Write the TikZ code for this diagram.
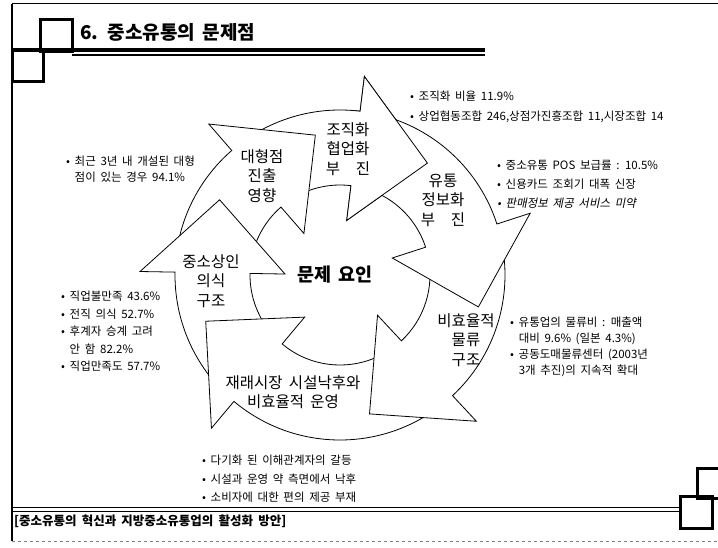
\documentclass[tikz,border=0pt]{standalone}
\usepackage{fontspec}
\setmainfont{Noto Sans CJK KR}[WordSpace=1.8]
\newfontfamily\krslant{Noto Sans CJK KR}[WordSpace=1.8, FakeSlant=0.2]

% one curved arrow of the ring: #2 = tail angle, #3 = barb angle
\newcommand{\cyclearrow}[3][]{%
  \pgfmathsetmacro{\tipangle}{#3-31}
  \path[ringarrow,#1] (#2:\rout) arc[start angle=#2, end angle=#3, radius=\rout]
    -- (#3:\rbarbout) -- (\tipangle:\rtip) -- (#3:\rbarbin) -- (#3:\rin)
    arc[start angle=#3, end angle=#2, radius=\rin] -- cycle;
}

\tikzset{
  ringarrow/.style={draw=black, fill=white, line width=0.8pt, line join=miter},
  ringlabel/.style={font=\fontsize{15.5}{19.5}\selectfont, align=center, inner sep=0pt},
  note/.style={font=\fontsize{11.5}{18.5}\selectfont, align=left, anchor=base west, inner sep=0pt},
  boxline/.style={line width=3pt},
}

\begin{document}
\begin{tikzpicture}[x=1pt, y=1pt]

\def\rin{90pt}
\def\rout{165pt}
\def\rbarbin{55pt}
\def\rbarbout{200pt}
\def\rtip{142pt}
\useasboundingbox (0,0) rectangle (718,547);
\coordinate (center) at (340,272);

% frame
\draw[line width=1pt] (12,543) -- (718,543);
\draw[line width=1.5pt] (12,543) -- (12,6);
\draw[gray, dashed, line width=0.6pt] (12,6) -- (718,6);
\draw[boxline] (40,527) rectangle (72,495);
\draw[boxline] (12,497) rectangle (43,465);
\draw[line width=3.5pt] (12,497) -- (485,497);
\draw[line width=2pt] (72,492) -- (485,492);
\node[anchor=base west, inner sep=0pt, font=\fontsize{19}{22}\selectfont\bfseries] (title) at (80,507) {6. 중소유통의 문제점};

\draw[line width=1pt] (12,40) -- (680,40);
\draw[line width=1pt] (12,36) -- (680,36);
\draw[boxline] (697,79) rectangle (722,49);
\draw[boxline] (680,51) rectangle (712,19);
\node[anchor=base west, inner sep=0pt, font=\fontsize{12.5}{14}\selectfont\bfseries] (source) at (14,22) {[중소유통의 혁신과 지방중소유통업의 활성화 방안]};

% ring of arrows
\begin{scope}[shift={(center)}]
\cyclearrow{125}{83}
\cyclearrow{173}{131}
\cyclearrow{224}{179}
\cyclearrow{-52}{-130}
\cyclearrow{12}{-47}
\cyclearrow{77}{18}
\begin{scope}
\clip (0,0) -- (85:230pt) -- (40:230pt) -- cycle;
\cyclearrow{125}{83}
\end{scope}
\end{scope}

\node[font=\fontsize{18.5}{20}\selectfont\bfseries, inner sep=0pt] (core) at (335,272) {문제 요인};
\node[ringlabel] (lblorg) at (348,398) {조직화\\협업화\\부\hspace{1em}진};
\node[ringlabel] (lblinfo) at (443,347) {유통\\정보화\\부\hspace{1em}진};
\node[ringlabel] (lbllogi) at (466,207) {비효율적\\물류\\구조};
\node[ringlabel] (lblmarket) at (293,155) {재래시장 시설낙후와\\비효율적 운영};
\node[ringlabel] (lblmind) at (211,266) {중소상인\\의식\\구조};
\node[ringlabel] (lbllarge) at (262,371) {대형점\\진출\\영향};

% notes (base = baseline of the last line)
\node[note, font=\fontsize{11.5}{20}\selectfont] (noteorg) at (410,426.5) {• 조직화 비율 11.9\%\\• 상업협동조합 246,상점가진흥조합 11,시장조합 14};
\node[note, font=\fontsize{11.5}{19}\selectfont] (noteinfo) at (497,339.5) {• 중소유통 POS 보급률 : 10.5\%\\• 신용카드 조회기 대폭 신장\\{\krslant • 판매정보 제공 서비스 미약}};
\node[note, font=\fontsize{11.5}{16}\selectfont] (notelarge) at (66,365.5) {• 최근 3년 내 개설된 대형\\\phantom{• }점이 있는 경우 94.1\%};
\node[note, font=\fontsize{11.5}{17.5}\selectfont] (notemind) at (61,176.5) {• 직업불만족 43.6\%\\• 전직 의식 52.7\%\\• 후계자 승계 고려\\\phantom{• }안 함 82.2\%\\• 직업만족도 57.7\%};
\node[note, font=\fontsize{11.5}{16}\selectfont] (notelogi) at (510,172.5) {• 유통업의 물류비 : 매출액\\\phantom{• }대비 9.6\% (일본 4.3\%)\\• 공동도매물류센터 (2003년\\\phantom{• }3개 추진)의 지속적 확대};
\node[note] (notemarket) at (202,45.5) {• 다기화 된 이해관계자의 갈등\\• 시설과 운영 약 측면에서 낙후\\• 소비자에 대한 편의 제공 부재};

\end{tikzpicture}
\end{document}
